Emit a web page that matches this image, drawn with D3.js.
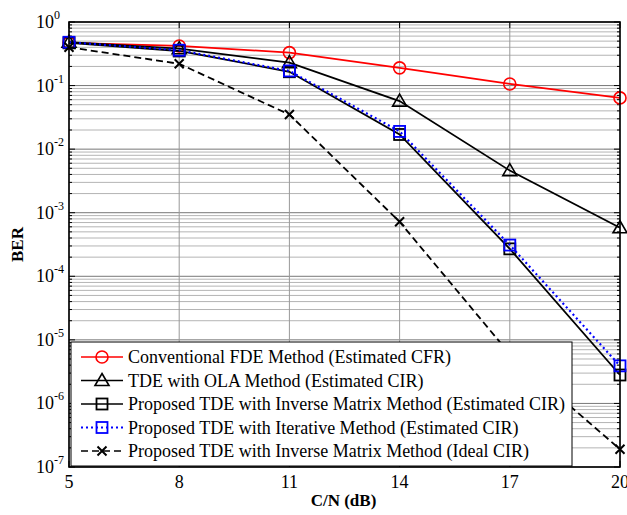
<!DOCTYPE html>
<meta charset="utf-8">
<script src="https://d3js.org/d3.v7.min.js"></script>
<style>
  body { margin: 0; background: #fff; }
</style>
<body>
<div id="chart"></div>
<script>
// data
const cn = [5, 8, 11, 14, 17, 20];
const fdeCFR   = [0.47, 0.42, 0.33, 0.19, 0.106, 0.064];
const olaCIR   = [0.48, 0.38, 0.23, 0.057, 0.0046, 0.00058];
const invCIR   = [0.47, 0.35, 0.165, 0.017, 0.00027, 2.8e-6];
const iterCIR  = [0.48, 0.36, 0.17, 0.019, 0.00031, 3.9e-6];
const idealCIR = [0.40, 0.22, 0.035, 0.00072, 6e-6, 1.9e-7];
const xTicks = [5, 8, 11, 14, 17, 20];
const yExp = [0, -1, -2, -3, -4, -5, -6, -7];

const series = [
  {name: "Conventional FDE Method (Estimated CFR)", values: fdeCFR, color: "red", dash: null, marker: "circle"},
  {name: "TDE with OLA Method (Estimated CIR)", values: olaCIR, color: "black", dash: null, marker: "triangle"},
  {name: "Proposed TDE with Inverse Matrix Method (Estimated CIR)", values: invCIR, color: "black", dash: null, marker: "square"},
  {name: "Proposed TDE with Iterative Method (Estimated CIR)", values: iterCIR, color: "blue", dash: "2,3", marker: "square"},
  {name: "Proposed TDE with Inverse Matrix Method (Ideal CIR)", values: idealCIR, color: "black", dash: "7,4", marker: "cross"}
];

const W = 627, H = 515;
const margin = {top: 22, right: 7, bottom: 48, left: 69};
const width = W - margin.left - margin.right,
      height = H - margin.top - margin.bottom;
const FONT = "'Liberation Serif', 'Times New Roman', Times, 'DejaVu Serif', serif";

const svg = d3.select("#chart").append("svg")
    .attr("width", W).attr("height", H)
    .attr("font-family", FONT);
const g = svg.append("g").attr("transform", `translate(${margin.left},${margin.top})`);

const x = d3.scaleLinear().domain([5, 20]).range([0, width]);
const y = d3.scaleLog().domain([1e-7, 1]).range([height, 0]);

// minor + major grid
const minor = [];
for (let e = -7; e < 0; e++) for (let k = 2; k <= 9; k++) minor.push(k * Math.pow(10, e));
g.append("g").selectAll("line").data(minor).join("line")
  .attr("x1", 0).attr("x2", width)
  .attr("y1", d => y(d)).attr("y2", d => y(d))
  .attr("stroke", "#b4b4b4").attr("stroke-width", 1);
g.append("g").selectAll("line").data(yExp).join("line")
  .attr("x1", 0).attr("x2", width)
  .attr("y1", d => y(Math.pow(10, d))).attr("y2", d => y(Math.pow(10, d)))
  .attr("stroke", "#777").attr("stroke-width", 1);
g.append("g").selectAll("line").data(xTicks).join("line")
  .attr("x1", d => x(d)).attr("x2", d => x(d))
  .attr("y1", 0).attr("y2", height)
  .attr("stroke", "#999").attr("stroke-width", 1);

// inward ticks
const ticks = g.append("g").attr("stroke", "#000").attr("stroke-width", 1);
minor.forEach(v => {
  ticks.append("line").attr("x1", 0).attr("x2", 3).attr("y1", y(v)).attr("y2", y(v));
  ticks.append("line").attr("x1", width).attr("x2", width - 3).attr("y1", y(v)).attr("y2", y(v));
});
yExp.forEach(e => {
  const v = Math.pow(10, e);
  ticks.append("line").attr("x1", 0).attr("x2", 6).attr("y1", y(v)).attr("y2", y(v));
  ticks.append("line").attr("x1", width).attr("x2", width - 6).attr("y1", y(v)).attr("y2", y(v));
});
xTicks.forEach(t => {
  ticks.append("line").attr("x1", x(t)).attr("x2", x(t)).attr("y1", height).attr("y2", height - 6);
  ticks.append("line").attr("x1", x(t)).attr("x2", x(t)).attr("y1", 0).attr("y2", 6);
});

// lines and markers
const line = d3.line().x((d, i) => x(cn[i])).y(d => y(d));

function drawMarker(sel, type, color, cx, cy) {
  if (type === "circle") {
    sel.append("circle").attr("cx", cx).attr("cy", cy).attr("r", 6)
      .attr("fill", "none").attr("stroke", color).attr("stroke-width", 1.6);
  } else if (type === "square") {
    sel.append("rect").attr("x", cx - 5.5).attr("y", cy - 5.5).attr("width", 11).attr("height", 11)
      .attr("fill", "none").attr("stroke", color).attr("stroke-width", 1.8);
  } else if (type === "triangle") {
    sel.append("path").attr("d", `M${cx},${cy - 7}L${cx + 7},${cy + 5}L${cx - 7},${cy + 5}Z`)
      .attr("fill", "none").attr("stroke", color).attr("stroke-width", 1.6);
  } else if (type === "cross") {
    sel.append("path").attr("d", `M${cx - 4.5},${cy - 4.5}L${cx + 4.5},${cy + 4.5}M${cx - 4.5},${cy + 4.5}L${cx + 4.5},${cy - 4.5}`)
      .attr("fill", "none").attr("stroke", color).attr("stroke-width", 2);
  }
}

series.forEach(s => {
  const sg = g.append("g");
  sg.append("path").datum(s.values).attr("d", line)
    .attr("fill", "none").attr("stroke", s.color)
    .attr("stroke-width", s.color === "blue" ? 2.2 : 1.8)
    .attr("stroke-dasharray", s.dash);
  s.values.forEach((v, i) => drawMarker(sg, s.marker, s.color, x(cn[i]), y(v)));
});

// axis box
g.append("rect").attr("width", width).attr("height", height)
  .attr("fill", "none").attr("stroke", "#000").attr("stroke-width", 1.6);

// tick labels
g.append("g").selectAll("text").data(xTicks).join("text")
  .attr("x", d => x(d)).attr("y", height + 21)
  .attr("text-anchor", "middle").attr("font-size", 18).text(d => d);
const yl = g.append("g").selectAll("text").data(yExp).join("text")
  .attr("x", -33).attr("y", d => y(Math.pow(10, d)) + 6)
  .attr("font-size", 18);
yl.append("tspan").text("10");
yl.append("tspan").attr("dy", -9).attr("font-size", 12).text(d => d);

// axis titles
g.append("text").attr("x", width / 2 - 1).attr("y", height + 39)
  .attr("text-anchor", "middle").attr("font-size", 17).attr("font-weight", "bold")
  .text("C/N (dB)");
g.append("text").attr("transform", `translate(-46,${height / 2}) rotate(-90)`)
  .attr("text-anchor", "middle").attr("font-size", 17).attr("font-weight", "bold")
  .text("BER");

// legend
const lg = svg.append("g").attr("transform", "translate(71,342)");
lg.append("rect").attr("width", 501).attr("height", 124)
  .attr("fill", "#fff").attr("stroke", "#000").attr("stroke-width", 1);
series.forEach((s, i) => {
  const cy = 15 + i * 23.5;
  lg.append("line").attr("x1", 10).attr("x2", 52).attr("y1", cy).attr("y2", cy)
    .attr("stroke", s.color).attr("stroke-width", s.color === "blue" ? 2 : 1.6)
    .attr("stroke-dasharray", s.dash);
  drawMarker(lg, s.marker, s.color, 31, cy);
  lg.append("text").attr("x", 57).attr("y", cy + 6)
    .attr("font-size", 18).text(s.name);
});
</script>
</body>
